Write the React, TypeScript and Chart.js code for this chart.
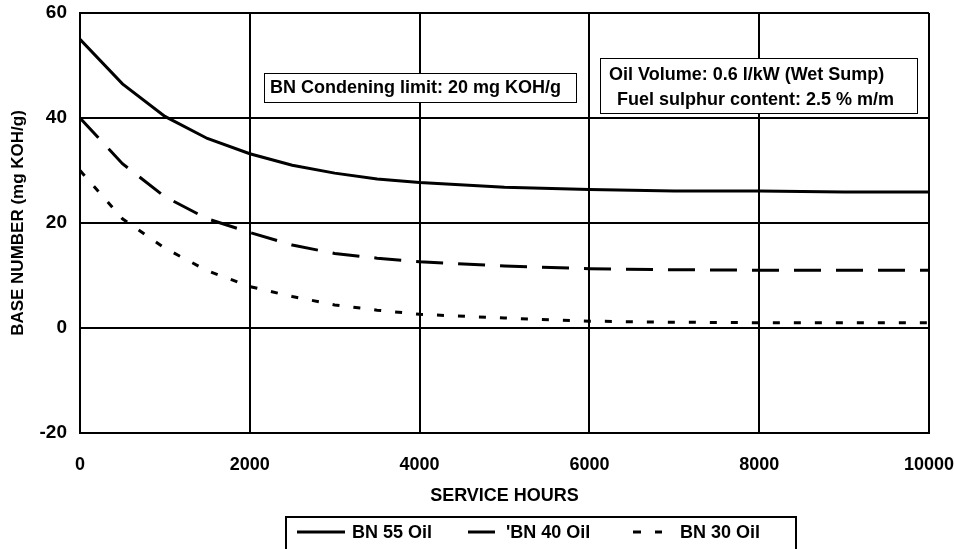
import React, { useEffect, useRef } from "react";
import { Chart, registerables } from "chart.js";

Chart.register(...registerables);

const hours = [0, 500, 1000, 1500, 2000, 2500, 3000, 3500, 4000, 5000, 6000, 7000, 8000, 9000, 10000];
const bn55 = [55, 46.5, 40.3, 36.1, 33.2, 31.0, 29.5, 28.4, 27.7, 26.8, 26.4, 26.1, 26.1, 25.9, 25.9];
const bn40 = [40, 31.3, 25.0, 20.8, 18.2, 15.8, 14.2, 13.3, 12.6, 11.8, 11.3, 11.1, 11.0, 11.0, 11.0];
const bn30 = [30, 20.8, 15.2, 10.9, 7.9, 6.0, 4.4, 3.4, 2.6, 1.9, 1.3, 1.1, 1.0, 1.0, 1.0];
const seriesNames = ["BN 55 Oil", "'BN 40 Oil", "BN 30 Oil"];
const xTicks = [0, 2000, 4000, 6000, 8000, 10000];
const yTicks = [-20, 0, 20, 40, 60];
const xTitle = "SERVICE HOURS";
const yTitle = "BASE NUMBER (mg KOH/g)";
const note1 = ["BN Condening limit: 20 mg KOH/g"];
const note2 = ["Oil Volume: 0.6 l/kW (Wet Sump)", "Fuel sulphur content: 2.5 % m/m"];

const FONT = '"Liberation Sans", Arial, sans-serif';

const overlayPlugin = {
  id: "overlay",
  afterDraw(chart: any) {
    const ctx = chart.ctx;
    ctx.save();
    ctx.textBaseline = "middle";
    // annotation box 1
    ctx.fillStyle = "#fff";
    ctx.fillRect(264, 73, 312, 29);
    ctx.strokeStyle = "#000";
    ctx.lineWidth = 1;
    ctx.strokeRect(264.5, 73.5, 312, 29);
    ctx.fillStyle = "#000";
    ctx.font = "bold 18px " + FONT;
    ctx.textAlign = "left";
    ctx.fillText(note1[0], 270, 88);
    // annotation box 2
    ctx.fillStyle = "#fff";
    ctx.fillRect(600, 58, 317, 55);
    ctx.strokeRect(600.5, 58.5, 317, 55);
    ctx.fillStyle = "#000";
    ctx.fillText(note2[0], 609, 75);
    ctx.fillText(note2[1], 617, 100);

    // legend
    ctx.lineWidth = 2;
    ctx.strokeStyle = "#000";
    ctx.strokeRect(286, 517, 510, 50);
    const ly = 532;
    const items = [
      { x0: 297, x1: 345, dash: [] as number[], tx: 352 },
      { x0: 468, x1: 495, dash: [] as number[], tx: 506 },
      { x0: 633, x1: 662, dash: [8, 14], tx: 680 },
    ];
    ctx.lineWidth = 3;
    ctx.font = "bold 18px " + FONT;
    items.forEach((it, i) => {
      ctx.setLineDash(it.dash);
      ctx.beginPath();
      ctx.moveTo(it.x0, ly);
      ctx.lineTo(it.x1, ly);
      ctx.stroke();
      ctx.setLineDash([]);
      ctx.fillText(seriesNames[i], it.tx, ly + 1);
    });
    ctx.restore();
  },
};

export default function App() {
  const ref = useRef<HTMLCanvasElement>(null);
  useEffect(() => {
    document.body.style.margin = "0";
    const canvas = ref.current!;
    const chart = new Chart(canvas, {
      type: "line",
      data: {
        datasets: [
          {
            label: seriesNames[0],
            data: hours.map((h, i) => ({ x: h, y: bn55[i] })),
            borderColor: "#000",
            borderWidth: 3,
            pointRadius: 0,
            tension: 0,
            fill: false,
          },
          {
            label: seriesNames[1],
            data: hours.map((h, i) => ({ x: h, y: bn40[i] })),
            borderColor: "#000",
            borderWidth: 3,
            borderDash: [27, 15],
            pointRadius: 0,
            tension: 0,
            fill: false,
          },
          {
            label: seriesNames[2],
            data: hours.map((h, i) => ({ x: h, y: bn30[i] })),
            borderColor: "#000",
            borderWidth: 3,
            borderDash: [7, 14],
            pointRadius: 0,
            tension: 0,
            fill: false,
          },
        ],
      },
      options: {
        animation: false,
        responsive: false,
        devicePixelRatio: 1,
        layout: { padding: { left: 0, right: 25, top: 13, bottom: 0 } },
        plugins: { legend: { display: false }, tooltip: { enabled: false } },
        scales: {
          x: {
            type: "linear",
            min: xTicks[0],
            max: xTicks[xTicks.length - 1],
            afterBuildTicks: (s: any) => {
              s.ticks = xTicks.map((v) => ({ value: v }));
            },
            afterFit: (s: any) => {
              s.height = 116;
              s.paddingLeft = 0;
              s.paddingRight = 0;
            },
            ticks: {
              color: "#000",
              font: { family: FONT, size: 18, weight: "bold" },
              padding: 21,
              maxRotation: 0,
              callback: (v: any) => String(v),
            },
            grid: { color: "#000", lineWidth: 2, drawTicks: false },
            border: { color: "#000", width: 2 },
            title: {
              display: true,
              text: xTitle,
              color: "#000",
              font: { family: FONT, size: 18, weight: "bold" },
              padding: { top: 0, bottom: 42 },
            },
          },
          y: {
            type: "linear",
            min: yTicks[0],
            max: yTicks[yTicks.length - 1],
            afterBuildTicks: (s: any) => {
              s.ticks = yTicks.map((v) => ({ value: v }));
            },
            afterFit: (s: any) => {
              s.width = 80;
              s.paddingTop = 0;
              s.paddingBottom = 0;
            },
            ticks: {
              color: "#000",
              font: { family: FONT, size: 19, weight: "bold" },
              padding: 13,
              callback: (v: any) => String(v),
            },
            grid: { color: "#000", lineWidth: 2, drawTicks: false },
            border: { color: "#000", width: 2 },
            title: {
              display: true,
              text: yTitle,
              color: "#000",
              font: { family: FONT, size: 17, weight: "bold" },
              padding: { top: 8, bottom: 0 },
            },
          },
        },
      },
      plugins: [overlayPlugin],
    });
    return () => chart.destroy();
  }, []);
  return (
    <div style={{ width: 954, height: 549, background: "#fff" }}>
      <canvas ref={ref} width={954} height={549} />
    </div>
  );
}
